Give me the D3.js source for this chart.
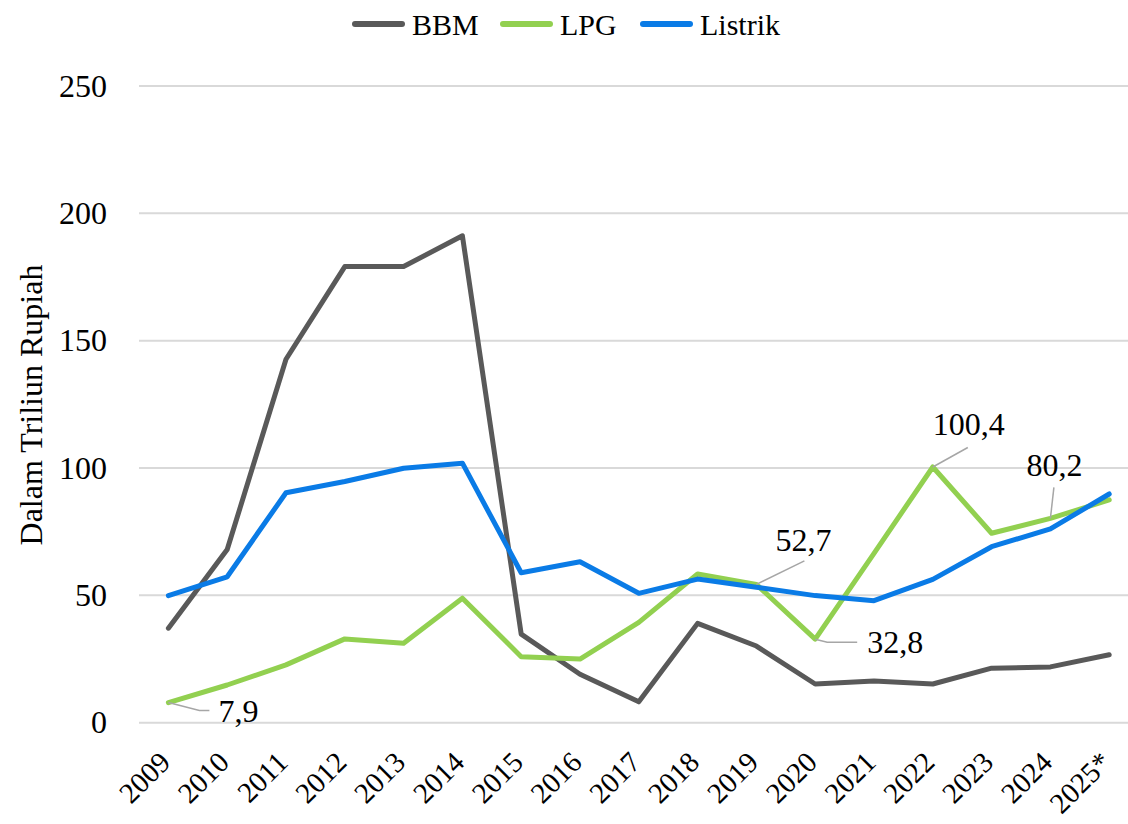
<!DOCTYPE html>
<html>
<head>
<meta charset="utf-8">
<script src="https://cdn.jsdelivr.net/npm/d3@7"></script>
<style>
  body { margin: 0; background: #fff; }
  svg { display: block; font-family: "Liberation Serif", "DejaVu Serif", serif; }
</style>
</head>
<body>
<div id="chart"></div>
<script>
// data
var years = ["2009", "2010", "2011", "2012", "2013", "2014", "2015", "2016", "2017",
             "2018", "2019", "2020", "2021", "2022", "2023", "2024", "2025*"];
var bbm = [37.1, 68, 142.7, 179.1, 179.1, 191.2, 34.8, 19.0, 8.2, 39.0, 30.1, 15.2, 16.4, 15.2, 21.4, 21.9, 26.7];
var lpg = [7.9, 14.8, 22.7, 32.9, 31.2, 48.9, 25.9, 25.0, 39.4, 58.4, 54.3, 32.8, 66.5, 100.4, 74.4, 80.2, 87.5];
var listrik = [49.9, 57.3, 90.3, 94.7, 99.9, 101.9, 58.9, 63.2, 50.8, 56.4, 53.2, 49.9, 47.9, 56.3, 69.1, 76.1, 89.8];
var yTicks = [0, 50, 100, 150, 200, 250];
var seriesNames = ["BBM", "LPG", "Listrik"];
// data labels on the LPG line: year index and shown text
var labelIdx = [0, 10, 11, 13, 15];
var labelText = ["7,9", "52,7", "32,8", "100,4", "80,2"];

var width = 1128, height = 824;
var margin = {top: 86, bottom: 102, left: 139};
var colors = {BBM: "#595959", LPG: "#92D050", Listrik: "#0A7BE6"};
var series = [
  {name: "BBM", values: bbm},
  {name: "LPG", values: lpg},
  {name: "Listrik", values: listrik}
];

var xScale = d3.scalePoint().domain(years).range([margin.left, margin.left + 17 * 58.8]).padding(0.5),
    yScale = d3.scaleLinear().domain([0, 250]).range([height - margin.bottom + 0.7, margin.top]);

var svg = d3.select("#chart").append("svg")
    .attr("width", width)
    .attr("height", height);

// gridlines
svg.append("g").selectAll("line")
   .data(yTicks)
   .enter().append("line")
   .attr("x1", margin.left)
   .attr("x2", width)
   .attr("y1", function(d) { return yScale(d); })
   .attr("y2", function(d) { return yScale(d); })
   .attr("stroke", "#d9d9d9")
   .attr("stroke-width", 2);

// y axis labels
var yAxis = d3.axisLeft(yScale).tickValues(yTicks).tickSize(0).tickPadding(32);
var gy = svg.append("g")
   .attr("transform", "translate(" + margin.left + ",0)")
   .call(yAxis);
gy.select(".domain").remove();
gy.selectAll("text")
  .attr("font-family", "Liberation Serif, serif")
  .attr("font-size", 32)
  .attr("fill", "#000");

// x axis labels, rotated
var xAxis = d3.axisBottom(xScale).tickSize(0).tickPadding(0);
var gx = svg.append("g")
   .attr("transform", "translate(0," + (height - margin.bottom) + ")")
   .call(xAxis);
gx.select(".domain").remove();
gx.selectAll("text")
  .attr("font-family", "Liberation Serif, serif")
  .attr("font-size", 29)
  .attr("fill", "#000")
  .attr("text-anchor", "end")
  .attr("dy", 0)
  .attr("transform", "translate(3,42) rotate(-45)");

// y axis title
svg.append("text")
   .attr("transform", "translate(42," + 405 + ") rotate(-90)")
   .attr("text-anchor", "middle")
   .attr("font-size", 32)
   .text("Dalam Triliun Rupiah");

// lines
var line = d3.line()
   .x(function(d, i) { return xScale(years[i]); })
   .y(function(d) { return yScale(d); });

svg.append("g").selectAll("path")
   .data(series)
   .enter().append("path")
   .attr("d", function(d) { return line(d.values); })
   .attr("fill", "none")
   .attr("stroke", function(d) { return colors[d.name]; })
   .attr("stroke-width", 5)
   .attr("stroke-linejoin", "round")
   .attr("stroke-linecap", "round");

// data labels with leader lines (offsets are layout only)
var leader = [
  {dx1: 31, dy1: 8, dx2: 41, dy2: 8, tx: 50, ty: 8.5, anchor: "start"},
  {dx1: 48, dy1: -23.5, dx2: 48, dy2: -23.5, tx: 47, ty: -45, anchor: "middle"},
  {dx1: 12, dy1: 3, dx2: 42, dy2: 3, tx: 52, ty: 2.5, anchor: "start"},
  {dx1: 35, dy1: -19.5, dx2: 35, dy2: -19.5, tx: 36, ty: -43, anchor: "middle"},
  {dx1: 3.5, dy1: -31, dx2: 3.5, dy2: -31, tx: 4, ty: -54, anchor: "middle"}
];
var lab = svg.append("g").selectAll("g")
   .data(labelIdx)
   .enter().append("g")
   .attr("transform", function(d) {
     return "translate(" + xScale(years[d]) + "," + yScale(lpg[d]) + ")";
   });
lab.append("polyline")
   .attr("points", function(d, i) {
     var o = leader[i];
     return "0,0 " + o.dx1 + "," + o.dy1 + " " + o.dx2 + "," + o.dy2;
   })
   .attr("fill", "none")
   .attr("stroke", "#a6a6a6")
   .attr("stroke-width", 1.5);
lab.append("text")
   .attr("x", function(d, i) { return leader[i].tx; })
   .attr("y", function(d, i) { return leader[i].ty; })
   .attr("dy", "0.35em")
   .attr("text-anchor", function(d, i) { return leader[i].anchor; })
   .attr("font-size", 32)
   .text(function(d, i) { return labelText[i]; });

// legend
var legendX = [355, 503, 643];
var legend = svg.append("g").selectAll("g")
   .data(seriesNames)
   .enter().append("g")
   .attr("transform", function(d, i) { return "translate(" + legendX[i] + ",24)"; });
legend.append("line")
   .attr("x1", 0).attr("x2", 47)
   .attr("stroke", function(d) { return colors[d]; })
   .attr("stroke-width", 6)
   .attr("stroke-linecap", "round");
legend.append("text")
   .attr("x", 57)
   .attr("dy", "0.35em")
   .attr("font-size", 30)
   .text(function(d) { return d; });
</script>
</body>
</html>
